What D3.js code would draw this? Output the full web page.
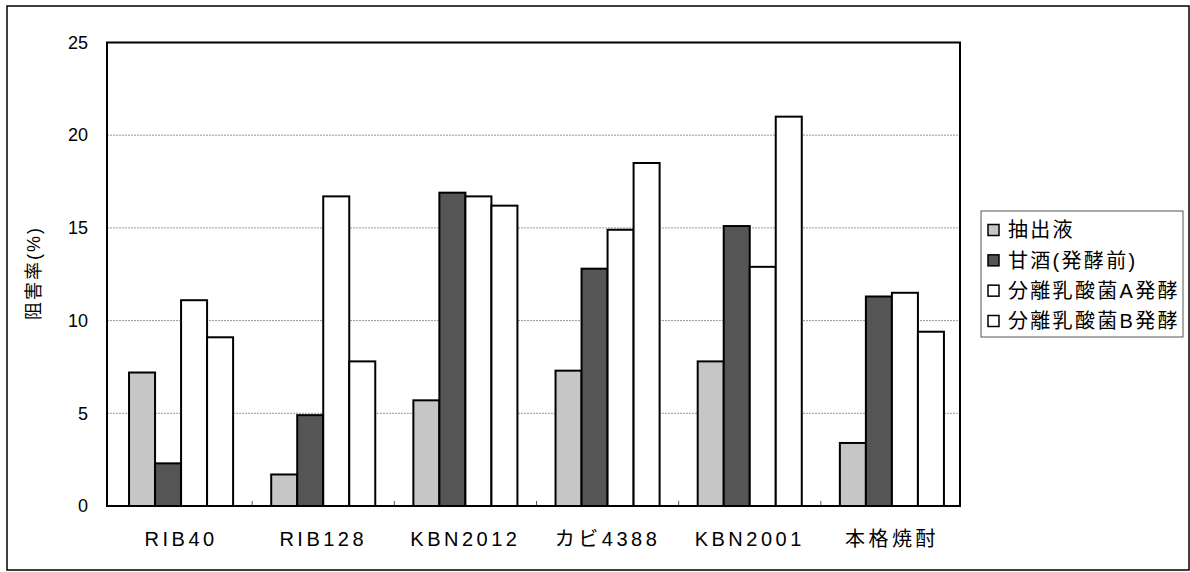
<!DOCTYPE html>
<html><head><meta charset="utf-8">
<script src="https://cdn.jsdelivr.net/npm/d3@7"></script>
<style>
html,body{margin:0;padding:0;background:#fff;}
svg text{font-family:"Liberation Sans","Noto Sans CJK JP",sans-serif;fill:#000;}
</style></head>
<body><svg id="c" width="1190" height="572"></svg>
<script>
const categories = ["RIB40","RIB128","KBN2012","カビ4388","KBN2001","本格焼酎"];
const seriesNames = ["抽出液","甘酒(発酵前)","分離乳酸菌A発酵","分離乳酸菌B発酵"];
const extract   = [7.2, 1.7, 5.7, 7.3, 7.8, 3.4];
const amazake   = [2.3, 4.9, 16.9, 12.8, 15.1, 11.3];
const lactoA    = [11.1, 16.7, 16.7, 14.9, 12.9, 11.5];
const lactoB    = [9.1, 7.8, 16.2, 18.5, 21.0, 9.4];
const yTicks    = [0, 5, 10, 15, 20, 25];
const yTitle    = "阻害率(%)";

const series = [extract, amazake, lactoA, lactoB];
const fills = ["#c6c6c6", "#555555", "#ffffff", "#ffffff"];

const svg = d3.select("#c");
const L = 107, R = 960, T = 42.5, B = 506;

// outer frame
svg.append("rect").attr("x",7).attr("y",6).attr("width",1182).attr("height",564)
  .attr("fill","none").attr("stroke","#000").attr("stroke-width",1.5);

const y = d3.scaleLinear().domain([0,25]).range([B,T]);
const x0 = d3.scaleBand().domain(categories).range([L,R]);
const bw = x0.bandwidth();
const x1 = d3.scaleBand().domain(d3.range(series.length)).range([bw*0.155, bw*0.887]);

// gridlines
svg.append("g").selectAll("line").data(yTicks.filter(t=>t>0 && t<25)).join("line")
  .attr("x1",L).attr("x2",R).attr("y1",d=>y(d)).attr("y2",d=>y(d))
  .attr("stroke","#999").attr("stroke-width",1).attr("stroke-dasharray","2,1");

// y axis labels
const yAxis = d3.axisLeft(y).tickValues(yTicks).tickSize(0).tickPadding(19);
const gy = svg.append("g").attr("transform",`translate(${L},0)`).call(yAxis);
gy.select(".domain").remove();
gy.selectAll("text").attr("font-size",18).style("font-family","'Liberation Sans',sans-serif");

// bars
const groups = svg.append("g").selectAll("g").data(categories).join("g")
  .attr("transform",d=>`translate(${x0(d)},0)`);
groups.selectAll("rect").data((d,i)=>series.map((s,j)=>({j, v:s[i]}))).join("rect")
  .attr("x",d=>x1(d.j)).attr("width",x1.bandwidth())
  .attr("y",d=>y(d.v)).attr("height",d=>y(0)-y(d.v))
  .attr("fill",d=>fills[d.j]).attr("stroke","#000").attr("stroke-width",2);

// x axis
const xAxis = d3.axisBottom(x0).tickSize(0).tickPadding(26);
const gx = svg.append("g").attr("transform",`translate(0,${B})`).call(xAxis);
gx.select(".domain").remove();
gx.selectAll("text").attr("font-size",20).attr("letter-spacing","3.5px")
  .attr("dx",3);

// inner category ticks
svg.append("g").selectAll("line").data(categories.slice(1)).join("line")
  .attr("x1",d=>x0(d)+3).attr("x2",d=>x0(d)+3).attr("y1",B).attr("y2",B-5)
  .attr("stroke","#555").attr("stroke-width",1);

// plot frame
svg.append("rect").attr("x",L).attr("y",T).attr("width",R-L).attr("height",B-T)
  .attr("fill","none").attr("stroke","#000").attr("stroke-width",2);

// y title
svg.append("text").attr("transform",`translate(40,273) rotate(-90)`)
  .attr("text-anchor","middle").attr("font-size",18).attr("letter-spacing","2px")
  .text(yTitle);

// legend
const lg = svg.append("g");
lg.append("rect").attr("x",981).attr("y",211).attr("width",202).attr("height",126)
  .attr("fill","#fff").attr("stroke","#555").attr("stroke-width",1);
const ly = d3.scalePoint().domain(d3.range(seriesNames.length)).range([230,321]);
const items = lg.selectAll("g").data(seriesNames).join("g")
  .attr("transform",(d,i)=>`translate(988,${ly(i)})`);
items.append("rect").attr("x",0).attr("y",-5.5).attr("width",11).attr("height",11)
  .attr("fill",(d,i)=>fills[i]).attr("stroke","#000").attr("stroke-width",1.5);
items.append("text").attr("x",20).attr("y",0).attr("dy","0.36em")
  .attr("font-size",20).attr("letter-spacing","2.3px").text(d=>d);
</script></body></html>
